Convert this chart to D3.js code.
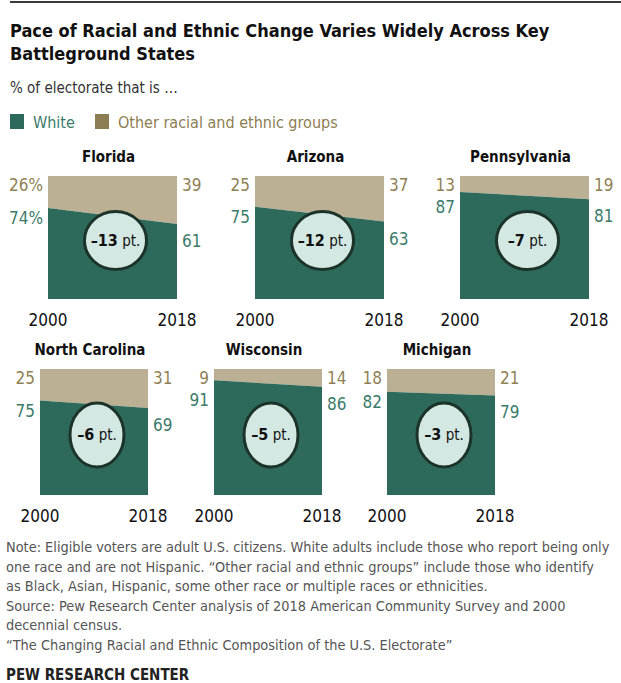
<!DOCTYPE html>
<html>
<head>
<meta charset="utf-8">
<script src="https://cdn.jsdelivr.net/npm/d3@7"></script>
<style>
  body { margin: 0; background: #fff; }
  svg { display: block; }
</style>
</head>
<body>
<script>
// data
const states = ["Florida", "Arizona", "Pennsylvania", "North Carolina", "Wisconsin", "Michigan"];
const years = [2000, 2018];
const white2000 = [74, 75, 87, 75, 91, 82];
const white2018 = [61, 63, 81, 69, 86, 79];
const other2000 = [26, 25, 13, 25, 9, 18];
const other2018 = [39, 37, 19, 31, 14, 21];
const changePts = [-13, -12, -7, -6, -5, -3];
const legendLabels = ["White", "Other racial and ethnic groups"];
const noteLines = [
  "Note: Eligible voters are adult U.S. citizens. White adults include those who report being only",
  "one race and are not Hispanic. \u201cOther racial and ethnic groups\u201d include those who identify",
  "as Black, Asian, Hispanic, some other race or multiple races or ethnicities.",
  "Source: Pew Research Center analysis of 2018 American Community Survey and 2000",
  "decennial census.",
  "\u201cThe Changing Racial and Ethnic Composition of the U.S. Electorate\u201d"
];

const width = 621, height = 683;
const green = "#2e6a5b", tan = "#bbb094";
const greenText = "#3b7b6a", tanText = "#8f7f55";
const narrow = "'DejaVu Sans Condensed', 'Liberation Sans Narrow', sans-serif";
const boldFont = "'DejaVu Sans Condensed', 'Liberation Sans Narrow', sans-serif";

// two rows of panels, layout only
const rows = [
  {top: 176, h: 123, w: 129, lefts: [48, 255, 460], rx: 31, ry: 29},
  {top: 369, h: 126, w: 108, lefts: [40, 214, 387], rx: 27, ry: 32}
];

const svg = d3.select("body").append("svg")
  .attr("width", width)
  .attr("height", height);

svg.append("line")
  .attr("x1", 10).attr("x2", width)
  .attr("y1", 2).attr("y2", 2)
  .attr("stroke", "#3a3a3a").attr("stroke-width", 2);

const title = svg.append("text")
  .attr("x", 10)
  .style("font-family", boldFont)
  .style("font-weight", "bold")
  .style("font-size", "18px")
  .attr("fill", "#111");
title.append("tspan").attr("x", 10).attr("y", 37).text("Pace of Racial and Ethnic Change Varies Widely Across Key");
title.append("tspan").attr("x", 10).attr("y", 60).text("Battleground States");

svg.append("text")
  .attr("x", 10).attr("y", 93)
  .style("font-family", narrow)
  .style("font-size", "15px")
  .attr("fill", "#333")
  .text("% of electorate that is \u2026");

// legend
const legend = svg.append("g");
const legendX = [10, 95];
legendLabels.forEach((lab, i) => {
  legend.append("rect")
    .attr("x", legendX[i]).attr("y", 114)
    .attr("width", 14).attr("height", 15)
    .attr("fill", i === 0 ? green : "#8c7d52");
  legend.append("text")
    .attr("x", legendX[i] + 23).attr("y", 128)
    .style("font-family", narrow)
    .style("font-size", "16px")
    .attr("fill", i === 0 ? greenText : "#8c7d52")
    .text(lab);
});

states.forEach((state, i) => {
  const row = rows[Math.floor(i / 3)];
  const left = row.lefts[i % 3];
  const x = d3.scaleLinear().domain(years).range([left, left + row.w]);
  const y = d3.scaleLinear().domain([0, 100]).range([row.top + row.h, row.top]);
  const pts = [
    {year: years[0], white: white2000[i], other: other2000[i]},
    {year: years[1], white: white2018[i], other: other2018[i]}
  ];
  const g = svg.append("g").attr("class", "panel");

  const otherArea = d3.area()
    .x(d => x(d.year))
    .y0(d => y(d.white))
    .y1(() => y(100));
  const whiteArea = d3.area()
    .x(d => x(d.year))
    .y0(() => y(0))
    .y1(d => y(d.white));

  g.append("path").attr("d", otherArea(pts)).attr("fill", tan);
  g.append("path").attr("d", whiteArea(pts)).attr("fill", green);

  g.append("text")
    .attr("x", (x(years[0]) + x(years[1])) / 2 - 4)
    .attr("y", row.top - 14)
    .attr("text-anchor", "middle")
    .style("font-family", boldFont)
    .style("font-weight", "bold")
    .style("font-size", "15px")
    .attr("fill", "#111")
    .text(state);

  const pct = i === 0 ? "%" : "";
  const lab = (txt, xx, yy, anchor, col) => g.append("text")
    .attr("x", xx).attr("y", yy)
    .attr("text-anchor", anchor)
    .style("font-family", narrow)
    .style("font-size", "17px")
    .attr("fill", col)
    .text(txt);

  const topY = y(100) + 15;
  lab(other2000[i] + pct, x(years[0]) - 5, topY, "end", tanText);
  lab(white2000[i] + pct, x(years[0]) - 5, Math.max(y(white2000[i]) + 16, y(100) + 37), "end", greenText);
  lab(other2018[i], x(years[1]) + 5, topY, "start", tanText);
  lab(white2018[i], x(years[1]) + 5, Math.max(y(white2018[i]) + 23, y(100) + 37), "start", greenText);

  years.forEach(yr => {
    g.append("text")
      .attr("x", x(yr)).attr("y", row.top + row.h + 27)
      .attr("text-anchor", "middle")
      .style("font-family", narrow)
      .style("font-size", "17px")
      .attr("fill", "#111")
      .text(yr);
  });

  const cx = (x(years[0]) + x(years[1])) / 2 + 3;
  const cy = y(50) + 3;
  g.append("ellipse")
    .attr("cx", cx).attr("cy", cy)
    .attr("rx", row.rx).attr("ry", row.ry)
    .attr("fill", "#d4e8e3")
    .attr("stroke", "#1c3329")
    .attr("stroke-width", 3);
  const ct = g.append("text")
    .attr("x", cx).attr("y", cy + 5)
    .attr("text-anchor", "middle")
    .style("font-family", narrow)
    .attr("fill", "#111");
  ct.append("tspan")
    .style("font-weight", "bold")
    .style("font-size", "16px")
    .text("\u2013" + Math.abs(changePts[i]));
  ct.append("tspan")
    .style("font-size", "15px")
    .text(" pt.");
});

// notes
const notes = svg.append("text")
  .style("font-family", narrow)
  .style("font-size", "14.4px")
  .attr("fill", "#555");
noteLines.forEach((line, i) => {
  notes.append("tspan").attr("x", 6).attr("y", 552 + i * 19.6).text(line);
});

svg.append("text")
  .attr("x", 6).attr("y", 680)
  .style("font-family", boldFont)
  .style("font-weight", "bold")
  .style("font-size", "15px")
  .attr("fill", "#222")
  .text("PEW RESEARCH CENTER");
</script>
</body>
</html>
